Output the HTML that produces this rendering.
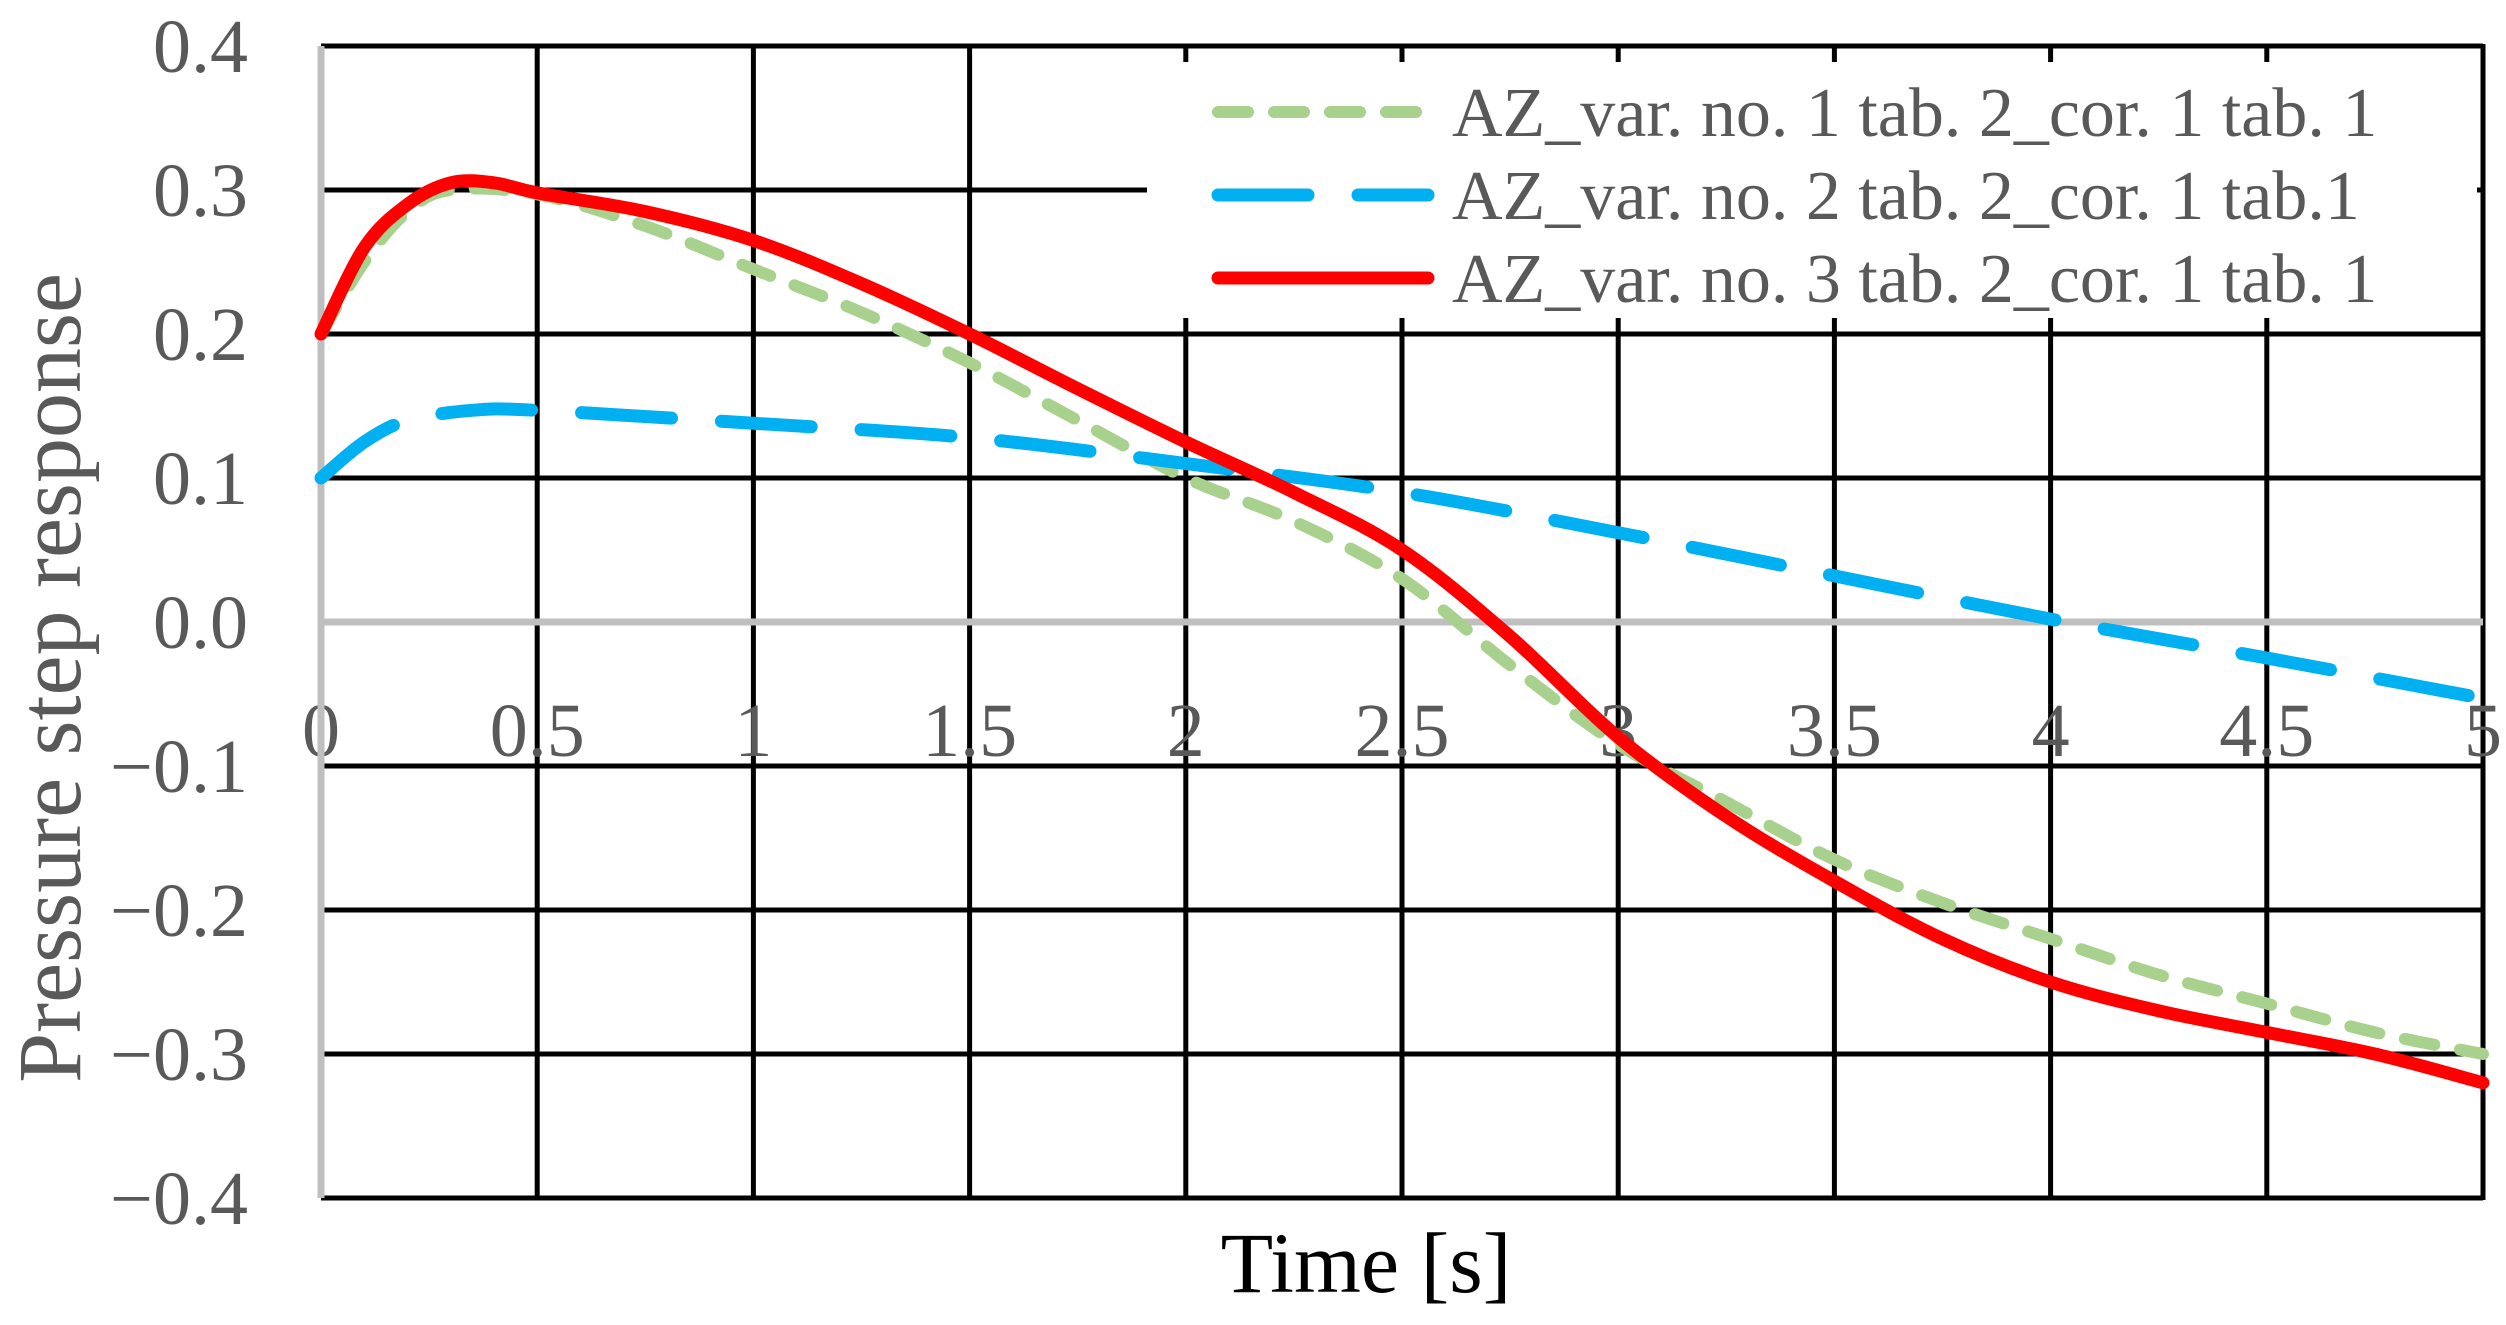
<!DOCTYPE html>
<html><head><meta charset="utf-8"><style>
html,body{margin:0;padding:0;background:#fff;}
svg{display:block;font-family:"Liberation Serif",serif;}
</style></head><body>
<svg id="chart" width="2506" height="1325" viewBox="0 0 2506 1325" xmlns="http://www.w3.org/2000/svg">
<g id="grid"></g>
<g id="axes"></g>
<g id="series"></g>
<g id="legend"></g>
<text transform="translate(80,678) rotate(-90)" text-anchor="middle" font-size="90" fill="#595959">Pressure step response</text>
<text x="1366" y="1292" text-anchor="middle" font-size="86" fill="#000">Time [s]</text>
</svg>
<script>
const xTicks=[0,0.5,1,1.5,2,2.5,3,3.5,4,4.5,5];
const xTickLabels=["0","0.5","1","1.5","2","2.5","3","3.5","4","4.5","5"];
const yTicks=[0.4,0.3,0.2,0.1,0,-0.1,-0.2,-0.3,-0.4];
const yTickLabels=["0.4","0.3","0.2","0.1","0.0","\u22120.1","\u22120.2","\u22120.3","\u22120.4"];
const seriesNames=["AZ_var. no. 1 tab. 2_cor. 1 tab. 1","AZ_var. no. 2 tab. 2_cor. 1 tab.1","AZ_var. no. 3 tab. 2_cor. 1 tab. 1"];
const t1=[0,0.1,0.2,0.3,0.5,0.75,1,1.25,1.5,1.75,2,2.25,2.5,2.75,3,3.25,3.5,3.75,4,4.25,4.5,4.75,5];
const v1=[0.2,0.25,0.285,0.3,0.297,0.275,0.245,0.215,0.18,0.14,0.1,0.07,0.03,-0.03,-0.085,-0.125,-0.165,-0.195,-0.22,-0.245,-0.265,-0.285,-0.3];
const t2=[0,0.1,0.2,0.35,0.5,1,1.5,2,2.5,3,3.5,4,4.5,5];
const v2=[0.1,0.125,0.14,0.147,0.147,0.138,0.128,0.11,0.09,0.062,0.032,0.002,-0.025,-0.053];
const t3=[0,0.1,0.2,0.3,0.4,0.5,0.75,1,1.25,1.5,1.75,2,2.25,2.5,2.75,3,3.25,3.5,3.75,4,4.25,4.5,4.75,5];
const v3=[0.2,0.26,0.29,0.305,0.305,0.298,0.285,0.265,0.235,0.2,0.162,0.125,0.09,0.05,-0.01,-0.08,-0.135,-0.18,-0.22,-0.25,-0.27,-0.285,-0.3,-0.32];

const X0=321,X1=2483,Y0=622,YS=1440;
const xs=v=>X0+(X1-X0)*v/5;
const ys=v=>Y0-YS*v;
const NS="http://www.w3.org/2000/svg";
function mk(tag,parent,attrs){const e=document.createElementNS(NS,tag);for(const k in attrs)e.setAttribute(k,attrs[k]);parent.appendChild(e);return e;}
const grid=document.getElementById('grid'),axes=document.getElementById('axes'),ser=document.getElementById('series'),leg=document.getElementById('legend');
yTicks.forEach((v,i)=>{
  if(v!==0){const l=mk('line',grid,{x1:X0,x2:X1,y1:ys(v),y2:ys(v),stroke:'#000','stroke-width':5});
  
  }
  const t=mk('text',axes,{x:248,y:ys(v)+26,'text-anchor':'end','font-size':76,fill:'#595959'});
  t.textContent=yTickLabels[i];
  
  
});
xTicks.forEach((v,i)=>{
  if(v!==0){const l=mk('line',grid,{x1:xs(v),x2:xs(v),y1:ys(0.4)-2,y2:ys(-0.4)+2,stroke:'#000','stroke-width':5});
  
  }
  const t=mk('text',axes,{x:xs(v),y:756,'text-anchor':'middle','font-size':76,fill:'#595959'});
  t.textContent=xTickLabels[i];
  
  
});
const ax1=mk('line',axes,{x1:X0,x2:X0,y1:ys(0.4),y2:ys(-0.4),stroke:'#bfbfbf','stroke-width':7});


const ax2=mk('line',axes,{x1:X0,x2:X1,y1:ys(0),y2:ys(0),stroke:'#bfbfbf','stroke-width':7});


function pathD(t,v){const p=t.map((x,i)=>[xs(x),ys(v[i])]);let d='M'+p[0][0]+','+p[0][1];
  for(let i=0;i<p.length-1;i++){const a=p[i-1]||p[i],b=p[i],c=p[i+1],e=p[i+2]||c;
    d+=' C'+(b[0]+(c[0]-a[0])/6)+','+(b[1]+(c[1]-a[1])/6)+' '+(c[0]-(e[0]-b[0])/6)+','+(c[1]-(e[1]-b[1])/6)+' '+c[0]+','+c[1];}
  return d;}
const styles=[{c:'#a9d18e',w:12,d:'30 26'},{c:'#00b0f0',w:13,d:'90 50'},{c:'#ff0000',w:13,d:''}];
const data=[[t1,v1],[t2,v2],[t3,v3]];
const names=['series-var-1','series-var-2','series-var-3'];
data.forEach((s,i)=>{
  const p=mk('path',ser,{d:pathD(s[0],s[1]),fill:'none',stroke:styles[i].c,'stroke-width':styles[i].w,'stroke-linecap':'round','stroke-dasharray':styles[i].d});
  
  
});
const bg=mk('rect',leg,{x:1147,y:62,width:1330,height:256,fill:'#fff'});


const ly=[112,195,278];
seriesNames.forEach((n,i)=>{
  const g=mk('g',leg,{});
  
  
  mk('line',g,{x1:1218,x2:1428,y1:ly[i],y2:ly[i],stroke:styles[i].c,'stroke-width':styles[i].w,'stroke-linecap':'round','stroke-dasharray':styles[i].d});
  const t=mk('text',g,{x:1452,y:ly[i]+24,'font-size':70,fill:'#595959'});
  t.textContent=n;
});
</script>
</body></html>
